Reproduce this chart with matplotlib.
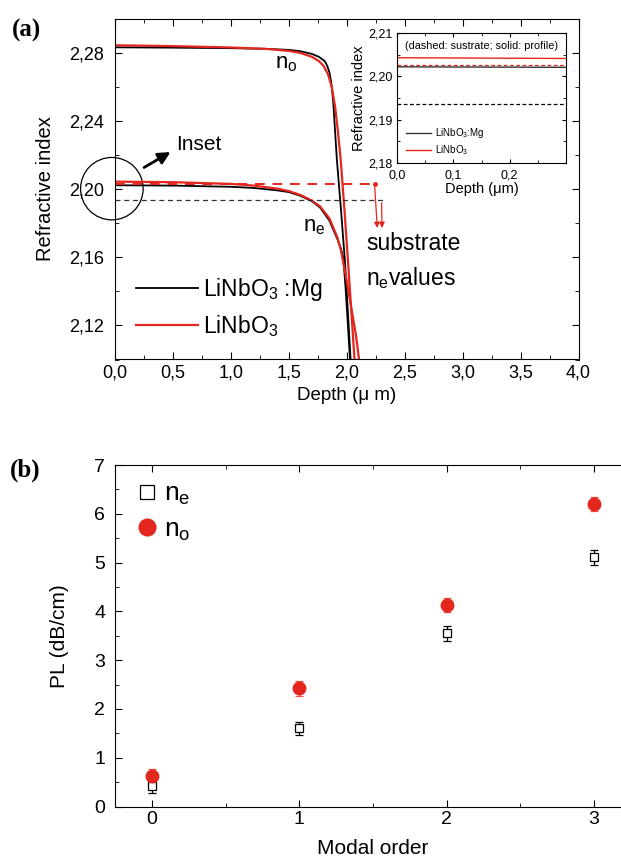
import numpy as np
import matplotlib
matplotlib.use("Agg")
import matplotlib.pyplot as plt
from matplotlib.ticker import MultipleLocator, FuncFormatter
from matplotlib.patches import Ellipse
from matplotlib.lines import Line2D

plt.rcParams['font.family'] = ['Liberation Sans', 'DejaVu Sans']
plt.rcParams['mathtext.fontset'] = 'custom'
plt.rcParams['mathtext.rm'] = 'Liberation Sans'
plt.rcParams['mathtext.it'] = 'Liberation Sans'

RED = "#e3261e"

# %% data (a) refractive index profiles
depth_o_mg = [0, 0.5, 1.0, 1.3, 1.5, 1.6, 1.7, 1.76, 1.81, 1.83, 1.85, 1.865, 1.875, 1.885, 1.90, 1.915, 1.95, 1.985, 2.035]
n_o_mg = [2.2831, 2.2829, 2.2826, 2.2822, 2.2816, 2.2808, 2.2792, 2.2775, 2.2750, 2.2725, 2.2685, 2.2630, 2.2570, 2.2495, 2.2330, 2.2170, 2.1880, 2.1570, 2.0980]

depth_o_ln = [0, 0.5, 1.0, 1.3, 1.5, 1.6, 1.7, 1.76, 1.80, 1.84, 1.87, 1.90, 1.925, 1.948, 1.98, 2.011, 2.069]
n_o_ln = [2.2843, 2.2838, 2.2830, 2.2822, 2.2810, 2.2798, 2.2775, 2.2750, 2.2722, 2.2670, 2.2600, 2.2480, 2.2330, 2.2170, 2.1880, 2.1574, 2.0980]

depth_e_mg = [0, 0.5, 1.0, 1.2, 1.4, 1.5, 1.6, 1.7, 1.77, 1.85, 1.92, 1.95, 1.97, 1.99, 2.01, 2.03]
n_e_mg = [2.2022, 2.2020, 2.2013, 2.2006, 2.1992, 2.1982, 2.1960, 2.1928, 2.1891, 2.1815, 2.1705, 2.1650, 2.1595, 2.1420, 2.1200, 2.0980]

depth_e_ln = [0, 0.5, 1.0, 1.2, 1.4, 1.5, 1.6, 1.7, 1.77, 1.85, 1.92, 1.95, 1.97, 2.00, 2.04, 2.08, 2.11]
n_e_ln = [2.2043, 2.2040, 2.2030, 2.2020, 2.2002, 2.1988, 2.1965, 2.1932, 2.1898, 2.1828, 2.1715, 2.1640, 2.1570, 2.1460, 2.1300, 2.1140, 2.0980]

# substrate n_e values (LiNbO3, LiNbO3:Mg)
sub_ne = [2.2027, 2.1936]
sub_end = [2.24, 2.31]

# %% data (b) propagation losses
modes = [0, 1, 2, 3]
pl_e = [0.42, 1.60, 3.55, 5.11]
err_e = [0.14, 0.14, 0.15, 0.15]
pl_o = [0.63, 2.42, 4.13, 6.20]
err_o = [0.14, 0.15, 0.15, 0.15]


def comma(fmt):
    return FuncFormatter(lambda v, p: (fmt % v).replace('.', ','))


W, H = 621, 859
fig = plt.figure(figsize=(W / 100, H / 100), dpi=100)


def px_axes(l, t, r, b):
    return fig.add_axes([l / W, 1 - b / H, (r - l) / W, (b - t) / H])


# %% panel (a)
ax = px_axes(115, 18.5, 578.5, 359.5)
l1, = ax.plot(depth_o_mg, n_o_mg, color="black", lw=1.3)
l2, = ax.plot(depth_o_ln, n_o_ln, color=RED, lw=1.6)
ax.plot(depth_e_mg, n_e_mg, color="black", lw=1.3)
ax.plot(depth_e_ln, n_e_ln, color=RED, lw=1.6)
ax.plot([0, sub_end[0]], [sub_ne[0]] * 2, color=RED, lw=1.4, ls=(0, (5, 4)))
ax.plot([0, sub_end[1]], [sub_ne[1]] * 2, color="#333333", lw=0.9, ls=(0, (4, 3)))
ax.plot([sub_end[0]], [sub_ne[0]], marker="o", ms=2.5, color=RED)
ax.annotate("", xy=(2.265, 2.1755), xytext=(sub_end[0], sub_ne[0]),
            arrowprops=dict(arrowstyle="-|>", color=RED, lw=0.9, mutation_scale=8))
ax.annotate("", xy=(2.305, 2.1755), xytext=(sub_end[1] - 0.01, sub_ne[1]),
            arrowprops=dict(arrowstyle="-|>", color=RED, lw=0.9, mutation_scale=8))

ax.legend([l1, l2], ["LiNbO$_3$ :Mg", "LiNbO$_3$"], loc="lower left",
          bbox_to_anchor=(0.0, 0.0), frameon=False, fontsize=16.5,
          handlelength=2.7, handletextpad=0.25, labelspacing=0.45)

ax.text(1.38, 2.2735, "n$_\\mathrm{o}$", fontsize=16, va="center")
ax.text(1.62, 2.178, "n$_\\mathrm{e}$", fontsize=16, va="center")
ax.text(2.17, 2.168, "substrate", fontsize=16.5, va="center")
ax.text(2.17, 2.148, "n$_\\mathrm{e}$values", fontsize=16.5, va="center")
ax.text(0.53, 2.2262, "Inset", fontsize=15, va="center")
ax.annotate("", xy=(0.50, 2.2225), xytext=(0.23, 2.2118),
            arrowprops=dict(arrowstyle="-|>", color="black", lw=2.0, mutation_scale=18))
ax.add_patch(Ellipse((-0.027, 2.2002), 0.54, 0.0366, fill=False, lw=0.9,
                     color="black", clip_on=False))

ax.set_xlim(0, 4.0)
ax.set_ylim(2.10, 2.30)
ax.xaxis.set_major_locator(MultipleLocator(0.5))
ax.xaxis.set_minor_locator(MultipleLocator(0.25))
ax.yaxis.set_minor_locator(MultipleLocator(0.02))
ax.set_yticks([2.12, 2.16, 2.20, 2.24, 2.28])
ax.xaxis.set_major_formatter(comma("%.1f"))
ax.yaxis.set_major_formatter(comma("%.2f"))
ax.tick_params(which="both", direction="in", top=True, right=True, labelsize=13)
ax.tick_params(which="major", length=5)
ax.tick_params(which="minor", length=3)
ax.tick_params(axis="y", pad=8)
ax.set_xlabel("Depth (μ m)", fontsize=13.5, labelpad=4)
ax.set_ylabel("Refractive index", fontsize=14.5, labelpad=10)
fig.text(12 / W, 1 - 30 / H, "(a)", fontsize=18, fontweight="bold",
         family="Liberation Serif", va="center")

# %% inset
ins = px_axes(397, 33, 566, 163)
ins.plot(depth_e_mg, n_e_mg, color="#333333", lw=1.0, label="LiNbO$_3$:Mg")
ins.plot(depth_e_ln, n_e_ln, color=RED, lw=1.0, label="LiNbO$_3$")
ins.plot([0, 0.3], [sub_ne[0]] * 2, color=RED, lw=0.9, ls=(0, (3, 2)))
ins.plot([0, 0.3], [sub_ne[1]] * 2, color="black", lw=0.9, ls=(0, (3, 2)))
ins.legend(loc="lower left", bbox_to_anchor=(0.0, -0.02), frameon=False,
           fontsize=7, handlelength=2.6, handletextpad=0.4, labelspacing=0.3)
ins.text(0.5, 0.9, "(dashed: sustrate; solid: profile)", transform=ins.transAxes,
         fontsize=7.8, ha="center", va="center")
ins.set_xlim(0, 0.3)
ins.set_ylim(2.18, 2.21)
ins.xaxis.set_minor_locator(MultipleLocator(0.05))
ins.yaxis.set_major_locator(MultipleLocator(0.01))
ins.yaxis.set_minor_locator(MultipleLocator(0.005))
ins.set_xticks([0, 0.1, 0.2])
ins.xaxis.set_major_formatter(comma("%.1f"))
ins.yaxis.set_major_formatter(comma("%.2f"))
ins.tick_params(which="both", direction="in", top=True, right=True, labelsize=9)
ins.tick_params(axis="x", pad=5)
ins.tick_params(axis="y", pad=3)
ins.tick_params(which="major", length=3)
ins.tick_params(which="minor", length=2)
ins.set_xlabel("Depth (μm)", fontsize=10.5, labelpad=0)
ins.set_ylabel("Refractive index", fontsize=10.5, labelpad=2)

# %% panel (b)
bx = px_axes(115, 465, 631, 806.5)
bx.errorbar(modes, pl_e, yerr=err_e, fmt="s", mfc="white", mec="black", mew=0.9,
            ms=6, ecolor="black", elinewidth=0.9, capsize=3, capthick=0.9)
bx.errorbar(modes, pl_o, yerr=err_o, fmt="o", color=RED, ms=9,
            ecolor="#e8554e", elinewidth=0.9, capsize=3, capthick=0.9)
h_e = Line2D([], [], ls="none", marker="s", mfc="white", mec="black", mew=0.9, ms=10)
h_o = Line2D([], [], ls="none", marker="o", color=RED, ms=12)
bx.legend([h_e, h_o], ["n$_\\mathrm{e}$", "n$_\\mathrm{o}$"], loc="upper left",
          bbox_to_anchor=(-0.01, 1.02), frameon=False, fontsize=19,
          handletextpad=0.15, labelspacing=0.4, handlelength=1.0)
bx.set_xlim(-0.25, 3.25)
bx.set_ylim(0, 7)
bx.xaxis.set_major_locator(MultipleLocator(1))
bx.xaxis.set_minor_locator(MultipleLocator(0.5))
bx.yaxis.set_major_locator(MultipleLocator(1))
bx.yaxis.set_minor_locator(MultipleLocator(0.5))
bx.tick_params(which="both", direction="in", top=True, right=True, labelsize=14)
bx.tick_params(which="major", length=5)
bx.tick_params(which="minor", length=3)
bx.tick_params(axis="y", pad=7)
bx.set_xlabel("Modal order", fontsize=15, labelpad=8)
bx.set_ylabel("PL (dB/cm)", fontsize=15, labelpad=18)
fig.text(10 / W, 1 - 470 / H, "(b)", fontsize=18, fontweight="bold",
         family="Liberation Serif", va="center")

fig.savefig("out.png", dpi=100)
